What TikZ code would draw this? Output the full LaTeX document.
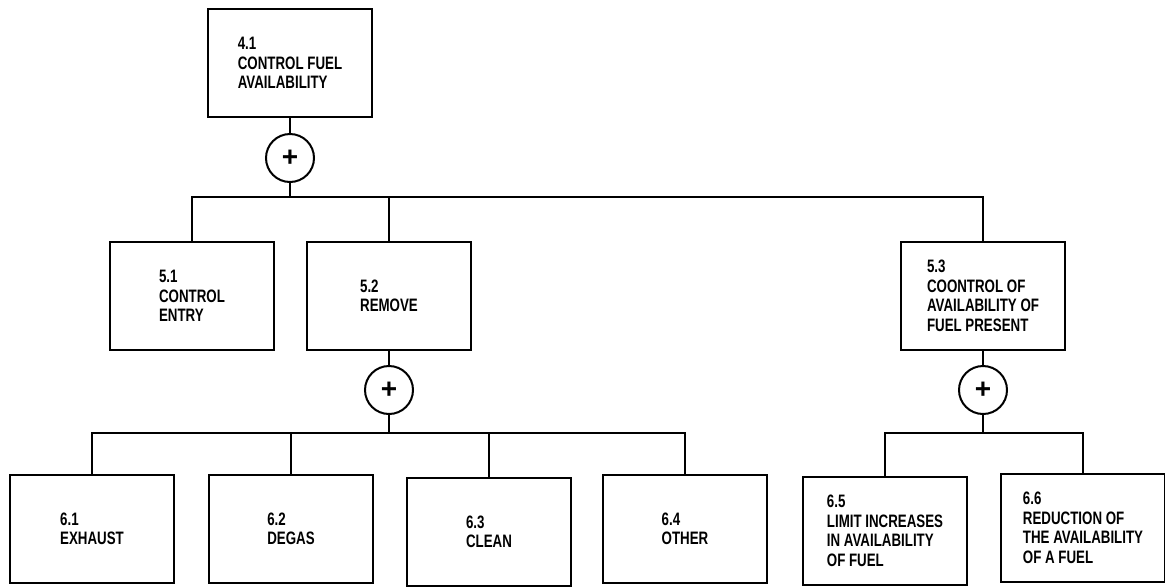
\documentclass[tikz,border=0pt]{standalone}
\usepackage{fontspec}
\setmainfont{Liberation Sans}[FakeStretch = 0.74]
\newfontfamily\plusfont{Liberation Sans}

\begin{document}
\begin{tikzpicture}[x = 1pt, y = -1pt, line width = 2.6pt,
    blk/.style = {draw, minimum width = 164pt, minimum height = 108pt, align = left,
        font = \fontsize{18}{19.5}\selectfont\bfseries},
    orgate/.style = {circle, draw, line width = 2pt, minimum size = 48pt, inner sep = 0pt,
        font = \plusfont\fontsize{28}{28}\selectfont\bfseries}]
    \useasboundingbox (0, 0) rectangle (1165, 587);
        % top level
        \node[blk] (n41) at (290, 63) {4.1\\CONTROL FUEL\\AVAILABILITY};
        \node[orgate] (g41) at (290, 158) {+};
        \coordinate (j41) at (290, 197);
        % second level
        \node[blk] (n51) at (192, 296) {5.1\\CONTROL\\ENTRY};
        \node[blk] (n52) at (389, 296) {5.2\\REMOVE};
        \node[blk] (n53) at (983, 296) {5.3\\COONTROL OF\\AVAILABILITY OF\\FUEL PRESENT};
        \node[orgate] (g52) at (389, 390) {+};
        \node[orgate] (g53) at (983, 390) {+};
        \coordinate (j52) at (389, 433);
        \coordinate (j53) at (983, 433);
        % third level
        \node[blk] (n61) at (92, 529) {6.1\\EXHAUST};
        \node[blk] (n62) at (291, 529) {6.2\\DEGAS};
        \node[blk] (n63) at (489, 532) {6.3\\CLEAN};
        \node[blk] (n64) at (685, 529) {6.4\\OTHER};
        \node[blk] (n65) at (885, 531) {6.5\\LIMIT INCREASES\\IN AVAILABILITY\\OF FUEL};
        \node[blk] (n66) at (1083, 528) {6.6\\REDUCTION OF\\THE AVAILABILITY\\OF A FUEL};
        % connectors
        \draw (n41) -- (g41) -- (j41);
        \draw (n51.north) |- (j41) -| (n53.north);
        \draw (n52.north) -- (n52.north |- j41);
        \draw (n52) -- (g52) -- (j52);
        \draw (n61.north) |- (j52) -| (n64.north);
        \draw (n62.north) -- (n62.north |- j52);
        \draw (n63.north) -- (n63.north |- j52);
        \draw (n53) -- (g53) -- (j53);
        \draw (n65.north) |- (j53) -| (n66.north);
\end{tikzpicture}
\end{document}
